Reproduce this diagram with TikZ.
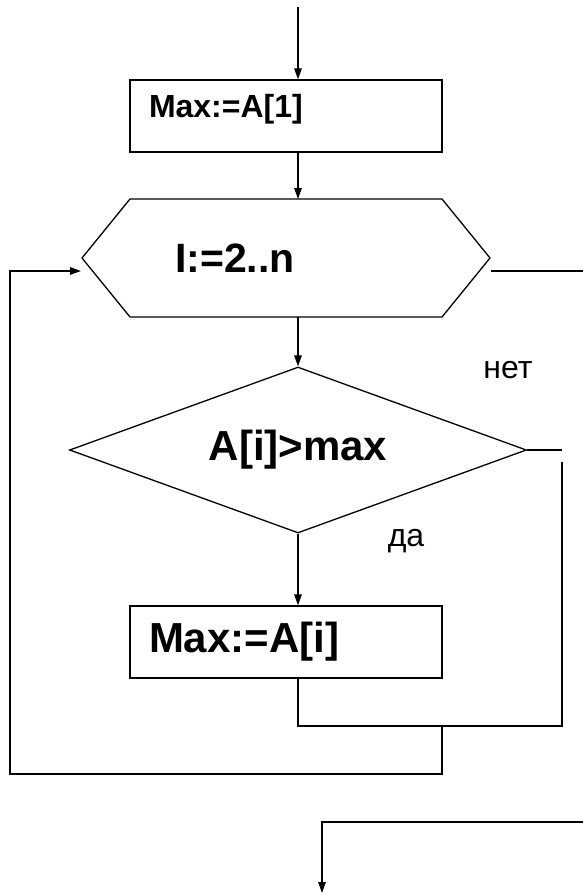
\documentclass[tikz,border=0pt]{standalone}
\usepackage{fontspec}
\setmainfont{Liberation Sans}
\usetikzlibrary{shapes.geometric,arrows.meta}

\begin{document}
\begin{tikzpicture}[x=1pt,y=1pt,line width=1.3pt,
  >={Triangle[length=11pt,width=7.5pt]},
  blok/.style={draw,rectangle,minimum width=312pt,minimum height=72pt,inner xsep=19pt,
    text width=274pt,align=left},
  cond/.style={draw,diamond,aspect=2.75,minimum width=457pt,minimum height=166pt,inner sep=0pt,
    font=\bfseries\fontsize{42}{46}\selectfont},
  lbl/.style={font=\fontsize{32}{36}\selectfont}]
  \useasboundingbox (0,0) rectangle (583,-895);
  \coordinate (start) at (298,-7);
  \node[blok,font=\bfseries\fontsize{32}{36}\selectfont,text depth=21pt] (init) at (286,-116) {Max:=A[1]};
  \draw (130,-199) coordinate (hNW) -- (442,-199) coordinate (hNE) -- (490,-258) coordinate (hE)
    -- (442,-317) coordinate (hSE) -- (130,-317) coordinate (hSW) -- (82,-258) coordinate (hW) -- cycle;
  \node[font=\bfseries\fontsize{41}{46}\selectfont] (cyc) at (235,-258) {I:=2..n};
  \node[cond] (cmp) at (298,-450) {A[i]>max};
  \node[blok,font=\bfseries\fontsize{42}{46}\selectfont] (upd) at (286,-642) {Max:=A[i]};
  \node[lbl] (no) at (508,-370) {нет};
  \node[lbl] (yes) at (406,-541) {да};
  \coordinate (inL) at (81,-271);
  \coordinate (exR) at (491,-271);
  \coordinate (outR) at (583,-271);
  \coordinate (nR) at (562,-450);
  \coordinate (nR2) at (562,-462);
  \coordinate (merge) at (298,-726);
  \coordinate (back) at (442,-726);
  \coordinate (lpB) at (10,-774);
  \coordinate (exB) at (583,-822);
  \coordinate (fin) at (322,-893);
  \draw[->] (start) -- (start |- init.north);
  \draw[->] (init.south -| start) -- (hNE -| start);
  \draw[->] (hSE -| start) -- (cmp.north);
  \draw[->] (cmp.south) -- (cmp.south |- upd.north);
  \draw (cmp.east) -- (nR);
  \draw (upd.south -| merge) -- (merge) -| (nR2);
  \draw[->] (back) |- (lpB) |- (inL);
  \draw (exR) -- (outR);
  \draw[->] (exB) -| (fin);
\end{tikzpicture}
\end{document}
